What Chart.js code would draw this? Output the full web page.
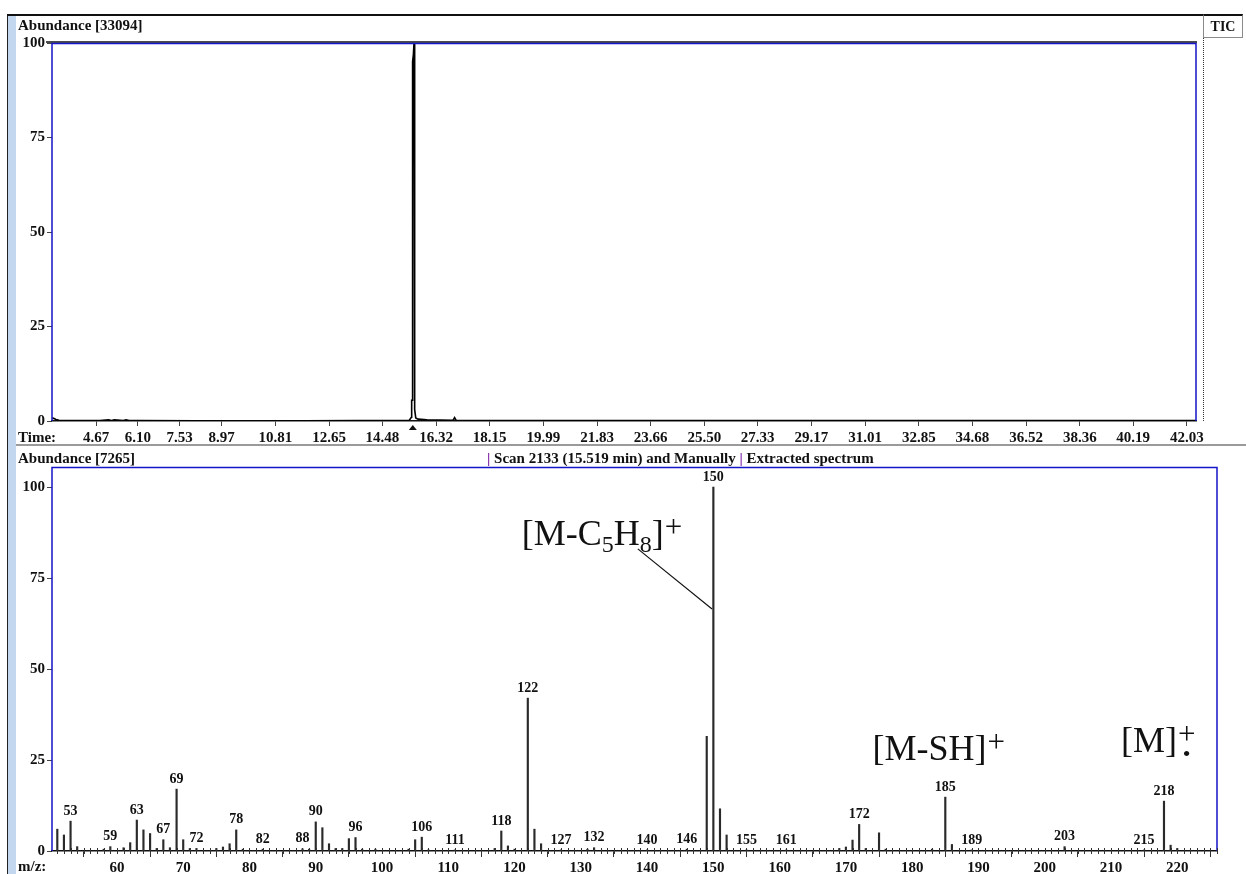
<!DOCTYPE html>
<html>
<head>
<meta charset="utf-8">
<title>TIC and extracted mass spectrum</title>
<script src="https://cdn.jsdelivr.net/npm/chart.js@4.4.1/dist/chart.umd.min.js"></script>
<style>
  html, body { margin: 0; padding: 0; background: #fff; }
  #page {
    position: relative; width: 1246px; height: 874px; overflow: hidden; background: #fff;
    font-family: "Liberation Serif", "Times New Roman", serif; font-weight: bold; font-size: 15px; color: #111;
  }
  .abs { position: absolute; white-space: nowrap; line-height: 16px; }
  canvas { position: absolute; left: 0; }
  .pipe { color: #7b1fa2; }
</style>
</head>
<body>
<div id="page">
  <canvas id="tic" width="1246" height="446" style="top:0;width:1246px;height:446px"></canvas>
  <canvas id="ms" width="1246" height="428" style="top:446px;width:1246px;height:428px"></canvas>

  <!-- window chrome -->
  <div class="abs" style="left:7px;top:15px;width:1px;height:859px;background:#222"></div>
  <div class="abs" style="left:8px;top:16px;width:8px;height:858px;background:#c3d7ee"></div>
  <div class="abs" style="left:7px;top:14px;width:1197px;height:2px;background:#111"></div>
  <div class="abs" style="left:1203px;top:14px;width:40px;height:24px;border:1px solid #8a8a8a;border-top:2px solid #111;box-sizing:border-box;text-align:center;line-height:22px;font-size:14px;">TIC</div>
  <div class="abs" style="left:1203px;top:38px;width:0;height:383px;border-left:1px dotted #333"></div>
  <div class="abs" style="left:16px;top:444px;width:1230px;height:2px;background:#9a9a9a"></div>

  <!-- panel captions -->
  <div class="abs" style="left:18px;top:17px">Abundance [33094]</div>
  <div class="abs" style="left:18px;top:429px">Time:</div>
  <div class="abs" style="left:18px;top:450px">Abundance [7265]</div>
  <div class="abs" style="left:487px;top:450px"><span class="pipe">|</span> Scan 2133 (15.519 min) and Manually <span class="pipe">|</span> Extracted spectrum</div>
  <div class="abs" style="left:18px;top:858px">m/z:</div>
</div>

<script>
// ---- total ion chromatogram ----
const timeTickLabels = ['4.67','6.10','7.53','8.97','10.81','12.65','14.48','16.32','18.15','19.99','21.83',
  '23.66','25.50','27.33','29.17','31.01','32.85','34.68','36.52','38.36','40.19','42.03'];
const ticTimes = [3.17, 3.22, 3.30, 3.40, 3.60, 4.80, 5.10, 5.20, 5.30, 5.60, 5.70, 5.80, 6.20, 10.0, 15.40,
  15.470, 15.480, 15.495, 15.500, 15.515, 15.520, 15.540, 15.560, 15.575, 15.590, 15.620, 15.700,
  16.00, 16.90, 16.95, 17.00, 20.0, 30.0, 42.34];
const ticAbundance = [0.8, 0.7, 0.4, 0.2, 0.1, 0.1, 0.3, 0.1, 0.3, 0.1, 0.3, 0.1, 0.1, 0.0, 0.2,
  1.0, 5.5, 5.5, 39.5, 39.5, 95, 97, 100, 100, 3, 0.8, 0.5,
  0.3, 0.2, 0.9, 0.2, 0.1, 0.1, 0.1];
const scanTime = 15.519;

// ---- extracted spectrum at the selected scan ----
const mzValues = [51,52,53,54,58,59,61,62,63,64,65,66,67,68,69,70,71,72,75,76,77,78,79,82,88,89,
  90,91,92,93,94,95,96,97,99,104,105,106,107,111,117,118,119,120,122,123,124,127,131,132,140,146,
  149,150,151,152,155,161,169,170,171,172,173,175,176,183,185,186,189,203,215,218,219,220];
const mzIntensity = [6.0,4.4,8.2,1.2,0.5,1.2,0.9,2.3,8.5,5.8,4.8,0.7,3.1,0.9,17.0,3.1,0.7,0.7,0.7,1.1,2.0,5.8,0.5,0.5,0.6,0.5,
  8.0,6.4,2.0,0.7,0.7,3.4,3.7,0.5,0.5,0.5,3.1,3.8,0.3,0.3,0.7,5.5,1.4,0.5,42.0,6.0,2.0,0.3,0.5,0.9,0.3,0.5,
  31.5,100,11.6,4.4,0.3,0.3,0.7,1.1,3.0,7.3,0.7,5.0,0.5,0.5,14.8,1.8,0.3,1.2,0.3,13.7,1.6,0.7];
const mzLabelled = [53,59,63,67,69,72,78,82,88,90,96,106,111,118,122,127,132,140,146,150,155,161,172,185,189,203,215,218];
const mzTickLabels = ['60','70','80','90','100','110','120','130','140','150','160','170','180','190','200','210','220'];
const abundanceTicks = [0, 25, 50, 75, 100];

// ion assignments: text anchored in m/z / abundance units, optional leader line
const ionNotes = [
  { parts: [['[M-C','n'],['5','sub'],['H','n'],['8','sub'],[']','n'],['+','sup']], at: [121.1, 84.1],
    leader: [[138.6, 83.0], [149.8, 66.5]] },
  { parts: [['[M-SH]','n'],['+','sup']], at: [174.0, 25.0] },
  { parts: [['[M]','n'],['+','sup'],['\u2022','dot']], at: [211.5, 27.2] }
];

const SERIF = '"Liberation Serif", "Times New Roman", serif';
const tickFont = { family: SERIF, size: 15, weight: 'bold' };
const INK = '#111';
const FRAME = '#1414c8';

function frameLines(ctx, a, withTopBlack) {
  ctx.save();
  if (withTopBlack) {
    ctx.strokeStyle = INK; ctx.lineWidth = 1.5;
    ctx.beginPath(); ctx.moveTo(a.left - 6, a.top - 1); ctx.lineTo(a.right + 1, a.top - 1); ctx.stroke();
  }
  ctx.strokeStyle = FRAME; ctx.lineWidth = 1.5;
  ctx.beginPath();
  ctx.moveTo(a.left, a.bottom); ctx.lineTo(a.left, a.top + 0.5);
  ctx.lineTo(a.right, a.top + 0.5); ctx.lineTo(a.right, a.bottom);
  ctx.stroke();
  ctx.restore();
}

const ticDecor = {
  id: 'ticDecor',
  afterDraw(chart) {
    const { ctx, chartArea: a } = chart;
    frameLines(ctx, a, true);
    const x = chart.scales.x.getPixelForValue(scanTime);
    ctx.save();
    ctx.fillStyle = INK;
    ctx.beginPath();
    ctx.moveTo(x - 4, a.bottom + 9); ctx.lineTo(x + 4, a.bottom + 9); ctx.lineTo(x, a.bottom + 4);
    ctx.closePath(); ctx.fill();
    ctx.restore();
  }
};

const msDecor = {
  id: 'msDecor',
  afterDraw(chart) {
    const { ctx, chartArea: a, scales } = chart;
    const sx = scales.x, sy = scales.y;
    frameLines(ctx, a, false);
    ctx.save();
    // unit ticks across the m/z axis
    ctx.strokeStyle = '#333'; ctx.lineWidth = 1;
    for (let m = Math.ceil(sx.min); m <= Math.floor(sx.max); m++) {
      const px = Math.round(sx.getPixelForValue(m)) + 0.5;
      ctx.beginPath(); ctx.moveTo(px, a.bottom - 3); ctx.lineTo(px, a.bottom + 3); ctx.stroke();
    }
    // peak m/z labels
    const meta = chart.getDatasetMeta(0);
    ctx.fillStyle = INK;
    ctx.font = 'bold 14px ' + SERIF;
    ctx.textAlign = 'center'; ctx.textBaseline = 'bottom';
    mzLabelled.forEach(m => {
      const i = mzValues.indexOf(m);
      if (i < 0) return;
      const el = meta.data[i];
      ctx.fillText(String(m), el.x, el.y - 3);
    });
    // ion assignments
    ctx.textAlign = 'left'; ctx.textBaseline = 'alphabetic';
    ionNotes.forEach(note => {
      let x = sx.getPixelForValue(note.at[0]);
      const y = sy.getPixelForValue(note.at[1]);
      let lastPlus = null;
      note.parts.forEach(([t, kind]) => {
        if (kind === 'n') {
          ctx.font = '36px ' + SERIF; ctx.fillText(t, x, y); x += ctx.measureText(t).width;
        } else if (kind === 'sub') {
          ctx.font = '24px ' + SERIF; ctx.fillText(t, x, y + 7); x += ctx.measureText(t).width;
        } else if (kind === 'sup') {
          ctx.font = '31px ' + SERIF; const w = ctx.measureText(t).width;
          ctx.fillText(t, x + 1, y - 8); lastPlus = x + 1 + w / 2; x += w + 1;
        } else if (kind === 'dot') {
          ctx.font = '22px ' + SERIF; ctx.textAlign = 'center'; ctx.textBaseline = 'middle';
          ctx.fillText(t, lastPlus, y + 3);
          ctx.textAlign = 'left'; ctx.textBaseline = 'alphabetic';
        }
      });
      if (note.leader) {
        ctx.strokeStyle = INK; ctx.lineWidth = 1.2;
        ctx.beginPath();
        ctx.moveTo(sx.getPixelForValue(note.leader[0][0]), sy.getPixelForValue(note.leader[0][1]));
        ctx.lineTo(sx.getPixelForValue(note.leader[1][0]), sy.getPixelForValue(note.leader[1][1]));
        ctx.stroke();
      }
    });
    ctx.restore();
  }
};

Chart.defaults.font.family = SERIF;
Chart.defaults.color = INK;

new Chart(document.getElementById('tic'), {
  type: 'line',
  data: {
    datasets: [{
      data: ticTimes.map((t, i) => ({ x: t, y: ticAbundance[i] })),
      borderColor: '#000', borderWidth: 1.6, pointRadius: 0, tension: 0, fill: false
    }]
  },
  options: {
    responsive: false, animation: false, devicePixelRatio: 1,
    layout: { padding: { top: 43, right: 50, left: 0, bottom: 0 } },
    plugins: { legend: { display: false }, tooltip: { enabled: false } },
    scales: {
      x: {
        type: 'linear', min: 3.163, max: 42.34,
        afterBuildTicks: s => { s.ticks = timeTickLabels.map(v => ({ value: parseFloat(v) })); },
        afterFit: s => { s.height = 25; },
        ticks: { font: tickFont, color: INK, padding: 3, autoSkip: false, maxRotation: 0,
          callback: (v, i) => timeTickLabels[i] },
        grid: { drawOnChartArea: false, drawTicks: true, tickLength: 5, color: '#444' },
        border: { display: true, color: INK, width: 1.5 }
      },
      y: {
        min: 0, max: 100,
        afterBuildTicks: s => { s.ticks = abundanceTicks.map(v => ({ value: v })); },
        afterFit: s => { s.width = 52; },
        ticks: { font: tickFont, color: INK, padding: 2 },
        grid: { drawOnChartArea: false, drawTicks: true, tickLength: 5, color: '#444' },
        border: { display: false }
      }
    }
  },
  plugins: [ticDecor]
});

new Chart(document.getElementById('ms'), {
  type: 'bar',
  data: {
    datasets: [{
      data: mzValues.map((m, i) => ({ x: m, y: mzIntensity[i] })),
      backgroundColor: '#2a2a2a', barThickness: 1.5, borderWidth: 0
    }]
  },
  options: {
    responsive: false, animation: false, devicePixelRatio: 1,
    layout: { padding: { top: 21, right: 29, left: 0, bottom: 0 } },
    plugins: { legend: { display: false }, tooltip: { enabled: false } },
    scales: {
      x: {
        type: 'linear', min: 50.2, max: 226, offset: false,
        afterBuildTicks: s => { s.ticks = mzTickLabels.map(v => ({ value: Number(v) })); },
        afterFit: s => { s.height = 23; },
        ticks: { font: tickFont, color: INK, padding: 2, autoSkip: false, maxRotation: 0,
          callback: (v, i) => mzTickLabels[i] },
        grid: { drawOnChartArea: false, drawTicks: true, tickLength: 6, color: '#333' },
        border: { display: true, color: INK, width: 1.5 }
      },
      y: {
        min: 0, max: 105.5,
        afterBuildTicks: s => { s.ticks = abundanceTicks.map(v => ({ value: v })); },
        afterFit: s => { s.width = 52; },
        ticks: { font: tickFont, color: INK, padding: 2 },
        grid: { drawOnChartArea: false, drawTicks: true, tickLength: 5, color: '#444' },
        border: { display: false }
      }
    }
  },
  plugins: [msDecor]
});
</script>
</body>
</html>
